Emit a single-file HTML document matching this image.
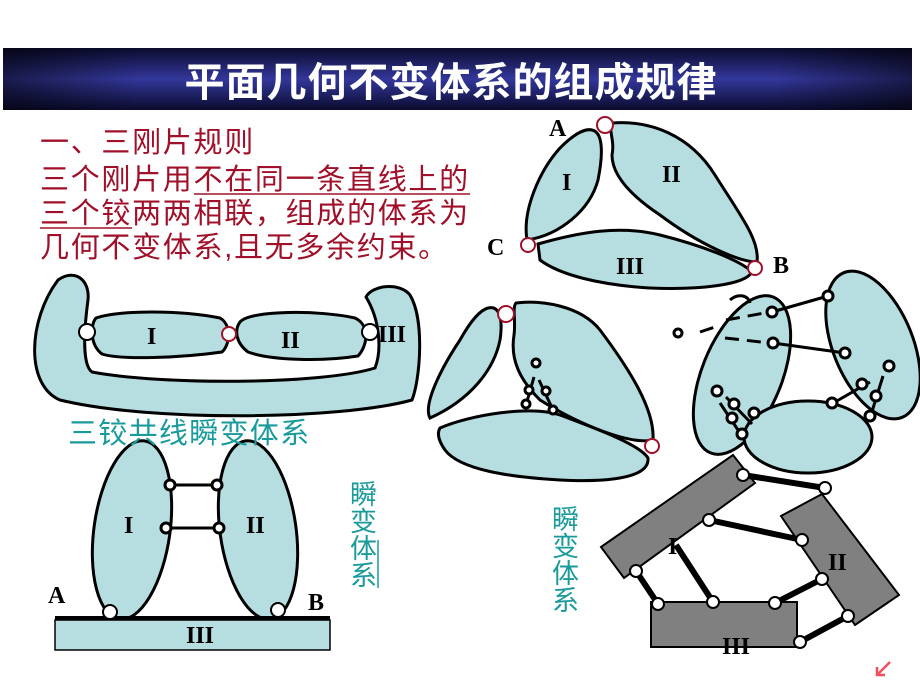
<!DOCTYPE html>
<html><head><meta charset="utf-8"><style>
html,body{margin:0;padding:0;background:#fff;width:920px;height:690px;overflow:hidden}
svg{display:block}
.t{font-family:"Liberation Serif","Noto Serif CJK SC",serif;font-weight:bold;fill:#000}
.cn{font-family:"Liberation Sans","Noto Sans CJK SC",sans-serif}
</style></head><body>
<svg width="920" height="690" viewBox="0 0 920 690" xmlns="http://www.w3.org/2000/svg">
<defs>
<linearGradient id="tg" x1="0" y1="0" x2="0" y2="1">
<stop offset="0" stop-color="#0b0b2e"/><stop offset="0.5" stop-color="#33379a"/><stop offset="1" stop-color="#0b0b2e"/>
</linearGradient>
<linearGradient id="th" x1="0" y1="0" x2="1" y2="0">
<stop offset="0" stop-color="#000" stop-opacity="0.5"/><stop offset="0.15" stop-color="#000" stop-opacity="0"/><stop offset="0.85" stop-color="#000" stop-opacity="0"/><stop offset="1" stop-color="#000" stop-opacity="0.5"/>
</linearGradient>
</defs>
<rect x="3" y="48" width="909" height="62" fill="url(#tg)"/>
<rect x="3" y="48" width="909" height="62" fill="url(#th)"/>
<text x="451" y="96" text-anchor="middle" class="cn" font-size="40" font-weight="bold" letter-spacing="1" fill="#fff">平面几何不变体系的组成规律</text>

<g class="cn" font-size="29" letter-spacing="1.7" fill="#a0102a">
<text x="40" y="152">一、三刚片规则</text>
<text x="40" y="189">三个刚片用不在同一条直线上的</text>
<text x="40" y="223">三个铰两两相联，组成的体系为</text>
<text x="40" y="257">几何不变体系,且无多余约束。</text>
</g>
<line x1="194" y1="194" x2="470" y2="194" stroke="#a0102a" stroke-width="1.5"/>
<line x1="40" y1="228" x2="132" y2="228" stroke="#a0102a" stroke-width="1.5"/>

<g fill="#b6dde0" stroke="#000" stroke-width="3">
<path d="M592,130 C602,132 604,150 598,180 C590,210 560,235 527,240 C522,210 540,170 560,148 C572,136 584,128 592,130 Z"/>
<path d="M612,123 C650,120 690,135 715,175 C740,215 760,240 757,262 C740,262 700,245 660,215 C630,195 612,175 612,155 C615,140 608,130 612,123 Z"/>
<path d="M538,244 C580,232 620,225 660,235 C700,245 740,260 752,272 C745,285 700,290 650,288 C600,285 560,275 540,260 Z"/>
<path d="M58,280 C75,268 90,280 88,300 C84,330 82,365 92,372 C160,385 320,385 375,368 C382,350 380,320 366,297 C372,285 400,282 410,295 C425,320 420,380 412,400 C340,420 150,422 60,400 C25,385 28,320 58,280 Z"/>
<path d="M96,318 C120,310 180,310 220,318 C232,325 230,345 222,352 C180,358 120,360 102,354 C90,345 90,325 96,318 Z"/>
<path d="M240,322 C250,310 320,310 355,318 C370,325 368,345 358,356 C320,362 270,360 248,352 C236,343 234,330 240,322 Z"/>
<path d="M488,308 C500,305 503,320 500,340 C494,370 470,400 430,418 C423,405 440,370 460,340 C470,322 480,310 488,308 Z"/>
<path d="M516,303 C540,300 580,305 600,330 C630,370 655,410 653,440 C630,445 580,425 540,400 C520,380 510,360 514,335 C516,320 512,308 516,303 Z"/>
<path d="M440,428 C470,415 530,405 560,415 C600,430 640,445 648,458 C650,480 600,482 560,480 C510,477 460,470 445,450 C438,440 437,433 440,428 Z"/>
<ellipse cx="742" cy="375" rx="40" ry="84" transform="rotate(22 742 375)"/>
<ellipse cx="873" cy="345" rx="40" ry="78" transform="rotate(-22 873 345)"/>
<ellipse cx="808" cy="437" rx="64" ry="36"/>
<ellipse cx="132" cy="530" rx="38" ry="90" transform="rotate(8 132 530)"/>
<ellipse cx="258" cy="530" rx="38" ry="90" transform="rotate(-8 258 530)"/>
<rect x="55" y="620" width="275" height="30" stroke-width="1.5"/>
</g>
<line x1="55" y1="618" x2="330" y2="618" stroke="#000" stroke-width="4"/>

<g stroke="#000" stroke-width="3" fill="#fff">
<line x1="170" y1="485" x2="217" y2="485"/><line x1="166" y1="528" x2="219" y2="528"/>
<circle cx="170" cy="485" r="5"/><circle cx="217" cy="485" r="5"/><circle cx="166" cy="528" r="5"/><circle cx="219" cy="528" r="5"/>
</g>
<g stroke="#000" stroke-width="2" fill="#fff">
<circle cx="110" cy="612" r="7"/><circle cx="278" cy="610" r="7"/>
<circle cx="87" cy="332" r="8"/><circle cx="370" cy="332" r="8"/>
</g>
<g stroke="#a0102a" stroke-width="2" fill="#fff">
<circle cx="229" cy="334" r="7"/><circle cx="605" cy="125" r="8"/><circle cx="528" cy="245" r="7"/><circle cx="755" cy="268" r="7"/>
<circle cx="506" cy="314" r="8"/><circle cx="652" cy="446" r="7"/>
</g>
<g stroke="#000" stroke-width="3" fill="#fff">
<line x1="534" y1="377" x2="526" y2="405"/><line x1="539" y1="380" x2="553" y2="410"/>
<circle cx="536" cy="363" r="4"/><circle cx="529" cy="390" r="4"/><circle cx="526" cy="404" r="4"/><circle cx="546" cy="391" r="4"/><circle cx="553" cy="410" r="4"/>
</g>
<g stroke="#000" stroke-width="3" fill="#fff">
<line x1="772" y1="312" x2="828" y2="296"/><line x1="773" y1="343" x2="845" y2="353"/>
<line x1="726" y1="397" x2="752" y2="424"/><line x1="720" y1="403" x2="742" y2="436"/>
<line x1="870" y1="382" x2="835" y2="402"/><line x1="883" y1="376" x2="870" y2="418"/>
<line x1="700" y1="332" x2="718" y2="326" stroke-dasharray="14,8"/>
<line x1="726" y1="320" x2="770" y2="312" stroke-dasharray="14,8"/>
<line x1="725" y1="338" x2="770" y2="343" stroke-dasharray="14,8"/>
<circle cx="772" cy="312" r="5"/><circle cx="828" cy="296" r="5"/><circle cx="773" cy="343" r="5"/><circle cx="845" cy="353" r="5"/>
<circle cx="717" cy="391" r="5"/><circle cx="734" cy="404" r="5"/><circle cx="754" cy="413" r="5"/><circle cx="732" cy="418" r="5"/><circle cx="742" cy="434" r="5"/>
<circle cx="889" cy="366" r="5"/><circle cx="862" cy="384" r="5"/><circle cx="876" cy="396" r="5"/><circle cx="832" cy="403" r="5"/><circle cx="870" cy="416" r="5"/>
<circle cx="678" cy="333" r="4"/>
<path d="M730,300 C738,293 748,295 750,303" fill="none"/>
</g>
<g fill="#808080" stroke="#000" stroke-width="2">
<polygon points="601,547 733,455 755,483 624,578"/>
<polygon points="781,516 822,494 899,595 855,625"/>
<rect x="651" y="602" width="146" height="45"/>
</g>
<g stroke="#000" stroke-width="6">
<line x1="743" y1="475" x2="825" y2="488"/>
<line x1="709" y1="520" x2="802" y2="540"/>
<line x1="676" y1="545" x2="713" y2="602"/>
<line x1="636" y1="571" x2="658" y2="604"/>
<line x1="775" y1="603" x2="822" y2="579"/>
<line x1="800" y1="642" x2="848" y2="616"/>
</g>
<g stroke="#000" stroke-width="2" fill="#fff">
<circle cx="743" cy="475" r="6"/><circle cx="825" cy="488" r="6"/><circle cx="709" cy="520" r="6"/><circle cx="802" cy="540" r="6"/>
<circle cx="636" cy="571" r="6"/><circle cx="658" cy="604" r="6"/><circle cx="713" cy="602" r="6"/><circle cx="775" cy="603" r="6"/>
<circle cx="822" cy="579" r="6"/><circle cx="848" cy="616" r="6"/><circle cx="800" cy="642" r="6"/>
</g>

<g class="t" font-size="24">
<text x="549" y="136">A</text><text x="487" y="255">C</text><text x="773" y="273">B</text>
<text x="562" y="190">I</text><text x="662" y="182">II</text><text x="616" y="274">III</text>
<text x="147" y="344">I</text><text x="281" y="348">II</text><text x="378" y="342">III</text>
<text x="48" y="603">A</text><text x="308" y="610">B</text><text x="186" y="643">III</text>
<text x="124" y="533">I</text><text x="246" y="533">II</text>
<text x="668" y="554">I</text><text x="828" y="570">II</text><text x="722" y="654">III</text>
</g>
<g class="cn" fill="#1a9a9a">
<text x="68" y="443" font-size="29" letter-spacing="1.3">三铰共线瞬变体系</text>
<g font-size="27">
<text x="350" y="504">瞬</text><text x="350" y="531">变</text><text x="350" y="558">体</text><text x="350" y="585">系</text>
<text x="552" y="529">瞬</text><text x="552" y="556">变</text><text x="552" y="583">体</text><text x="552" y="610">系</text>
</g>
</g>
<line x1="378" y1="540" x2="378" y2="588" stroke="#1a9a9a" stroke-width="1.5"/>
<g stroke="#f05060" stroke-width="2.5" fill="none">
<line x1="890" y1="662" x2="877" y2="675"/><polyline points="877,667 877,675 885,675"/>
</g>
</svg>
</body></html>
